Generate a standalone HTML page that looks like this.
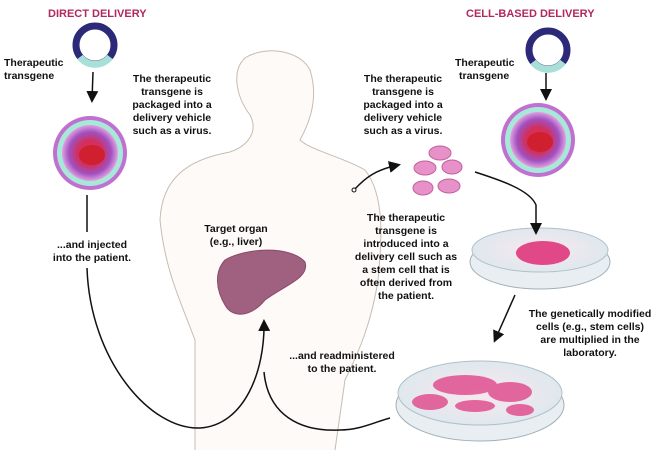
<!DOCTYPE html>
<html><head><style>
body{margin:0;background:#fff;width:661px;height:452px;overflow:hidden}
svg{display:block}
text{font-family:"Liberation Sans",sans-serif;font-size:10.5px;fill:#111;font-weight:bold}
.t{font-size:11px;fill:#b0285c;font-weight:bold}
</style></head><body>
<svg width="661" height="452" viewBox="0 0 661 452">
<defs>
<marker id="a" markerWidth="8" markerHeight="8" refX="6" refY="4" orient="auto"><path d="M0,0L8,4L0,8z" fill="#111"/></marker>
<radialGradient id="v" cx="50%" cy="50%" r="50%"><stop offset="0" stop-color="#e03040"/><stop offset=".45" stop-color="#d03060"/><stop offset=".75" stop-color="#a050c0"/><stop offset="1" stop-color="#e0a0e0"/></radialGradient>
<radialGradient id="d" cx="50%" cy="50%" r="50%"><stop offset="0" stop-color="#f8e8ee"/><stop offset="1" stop-color="#dfe8ee"/></radialGradient>
</defs>
<text class="t" x="48" y="17">DIRECT DELIVERY</text>
<text class="t" x="466" y="17">CELL-BASED DELIVERY</text>
<!-- body -->
<path d="M195,450 L195,340 C180,300 165,270 160,220 C162,180 185,160 230,152 C250,145 258,130 250,115 C235,95 232,70 245,58 C265,45 300,50 310,70 C318,95 312,118 300,140 C310,150 345,158 365,170 C385,195 382,240 378,280 C372,320 360,350 345,380 L335,450" fill="#fdfaf7" stroke="#c8bcb0" stroke-width="1"/>
<!-- plasmids -->
<g fill="none" stroke-width="7"><circle cx="95" cy="45" r="19" stroke="#2c2a78"/><path d="M80,57 A19,19 0 0 0 110,57" stroke="#a8e0d8"/>
<circle cx="548" cy="50" r="19" stroke="#2c2a78"/><path d="M533,62 A19,19 0 0 0 563,62" stroke="#a8e0d8"/></g>
<text x="4" y="66">Therapeutic</text><text x="4" y="79">transgene</text>
<text x="455" y="66">Therapeutic</text><text x="459" y="79">transgene</text>
<!-- viruses -->
<g><circle cx="90" cy="153" r="37" fill="#c070d0"/><circle cx="90" cy="153" r="33" fill="#a8e8d8"/><circle cx="90" cy="153" r="28" fill="url(#v)"/><ellipse cx="92" cy="155" rx="13" ry="10" fill="#d02030"/></g>
<g><circle cx="538" cy="140" r="37" fill="#c070d0"/><circle cx="538" cy="140" r="33" fill="#a8e8d8"/><circle cx="538" cy="140" r="28" fill="url(#v)"/><ellipse cx="540" cy="142" rx="13" ry="10" fill="#d02030"/></g>
<!-- liver -->
<path d="M225,260 C245,248 290,245 305,262 C310,278 285,285 265,300 C250,318 232,318 225,305 C216,290 214,272 225,260z" fill="#a06080" stroke="#8a4a6a"/>
<g text-anchor="middle"><text x="236" y="232">Target organ</text><text x="236" y="245">(e.g., liver)</text></g>
<!-- text -->
<g text-anchor="middle">
<text x="172" y="82">The therapeutic</text><text x="172" y="95">transgene is</text><text x="172" y="108">packaged into a</text><text x="172" y="121">delivery vehicle</text><text x="172" y="134">such as a virus.</text>
<text x="403" y="82">The therapeutic</text><text x="403" y="95">transgene is</text><text x="403" y="108">packaged into a</text><text x="403" y="121">delivery vehicle</text><text x="403" y="134">such as a virus.</text>
<text x="406" y="221">The therapeutic</text><text x="406" y="234">transgene is</text><text x="406" y="247">introduced into a</text><text x="406" y="260">delivery cell such as</text><text x="406" y="273">a stem cell that is</text><text x="406" y="286">often derived from</text><text x="406" y="299">the patient.</text>
<text x="590" y="317">The genetically modified</text><text x="590" y="330">cells (e.g., stem cells)</text><text x="590" y="343">are multiplied in the</text><text x="590" y="356">laboratory.</text>
<text x="92" y="248">...and injected</text><text x="92" y="261">into the patient.</text>
<text x="342" y="359">...and readministered</text><text x="342" y="372">to the patient.</text>
</g>
<!-- cells -->
<g fill="#e890c8" stroke="#c060a0"><ellipse cx="440" cy="153" rx="11" ry="7"/><ellipse cx="425" cy="168" rx="11" ry="7"/><ellipse cx="452" cy="167" rx="10" ry="7"/><ellipse cx="423" cy="188" rx="10" ry="7"/><ellipse cx="449" cy="186" rx="11" ry="7"/></g>
<!-- dishes -->
<ellipse cx="540" cy="262" rx="70" ry="27" fill="#e8eef2" stroke="#a0b0b8"/><ellipse cx="540" cy="250" rx="68" ry="22" fill="url(#d)" stroke="#b0c0c8"/><ellipse cx="543" cy="253" rx="27" ry="12" fill="#e04888"/>
<ellipse cx="480" cy="405" rx="84" ry="36" fill="#e8eef2" stroke="#a0b0b8"/><ellipse cx="480" cy="393" rx="82" ry="32" fill="url(#d)" stroke="#b0c0c8"/>
<g fill="#e05090" opacity=".85"><ellipse cx="465" cy="385" rx="32" ry="10"/><ellipse cx="510" cy="392" rx="22" ry="10"/><ellipse cx="430" cy="402" rx="18" ry="8"/><ellipse cx="475" cy="406" rx="20" ry="6"/><ellipse cx="520" cy="410" rx="14" ry="6"/></g>
<!-- arrows -->
<g fill="none" stroke="#111" stroke-width="1.5">
<path d="M93,72 L92,100" marker-end="url(#a)"/>
<path d="M546,73 L546,98" marker-end="url(#a)"/>
<path d="M87,195 L87,232"/>
<path d="M87,268 C90,360 150,430 200,428 C245,425 265,370 264,322" marker-end="url(#a)"/>
<path d="M354,190 C365,178 375,170 398,165" marker-end="url(#a)"/>
<path d="M475,172 C500,180 530,190 536,205 L536,232" marker-end="url(#a)"/>
<path d="M515,295 L495,340" marker-end="url(#a)"/>
<path d="M264,372 C268,415 300,432 340,430 C360,430 375,422 390,418"/>
</g>
<circle cx="354" cy="190" r="2" fill="#fff" stroke="#111"/>
</svg>
</body></html>
